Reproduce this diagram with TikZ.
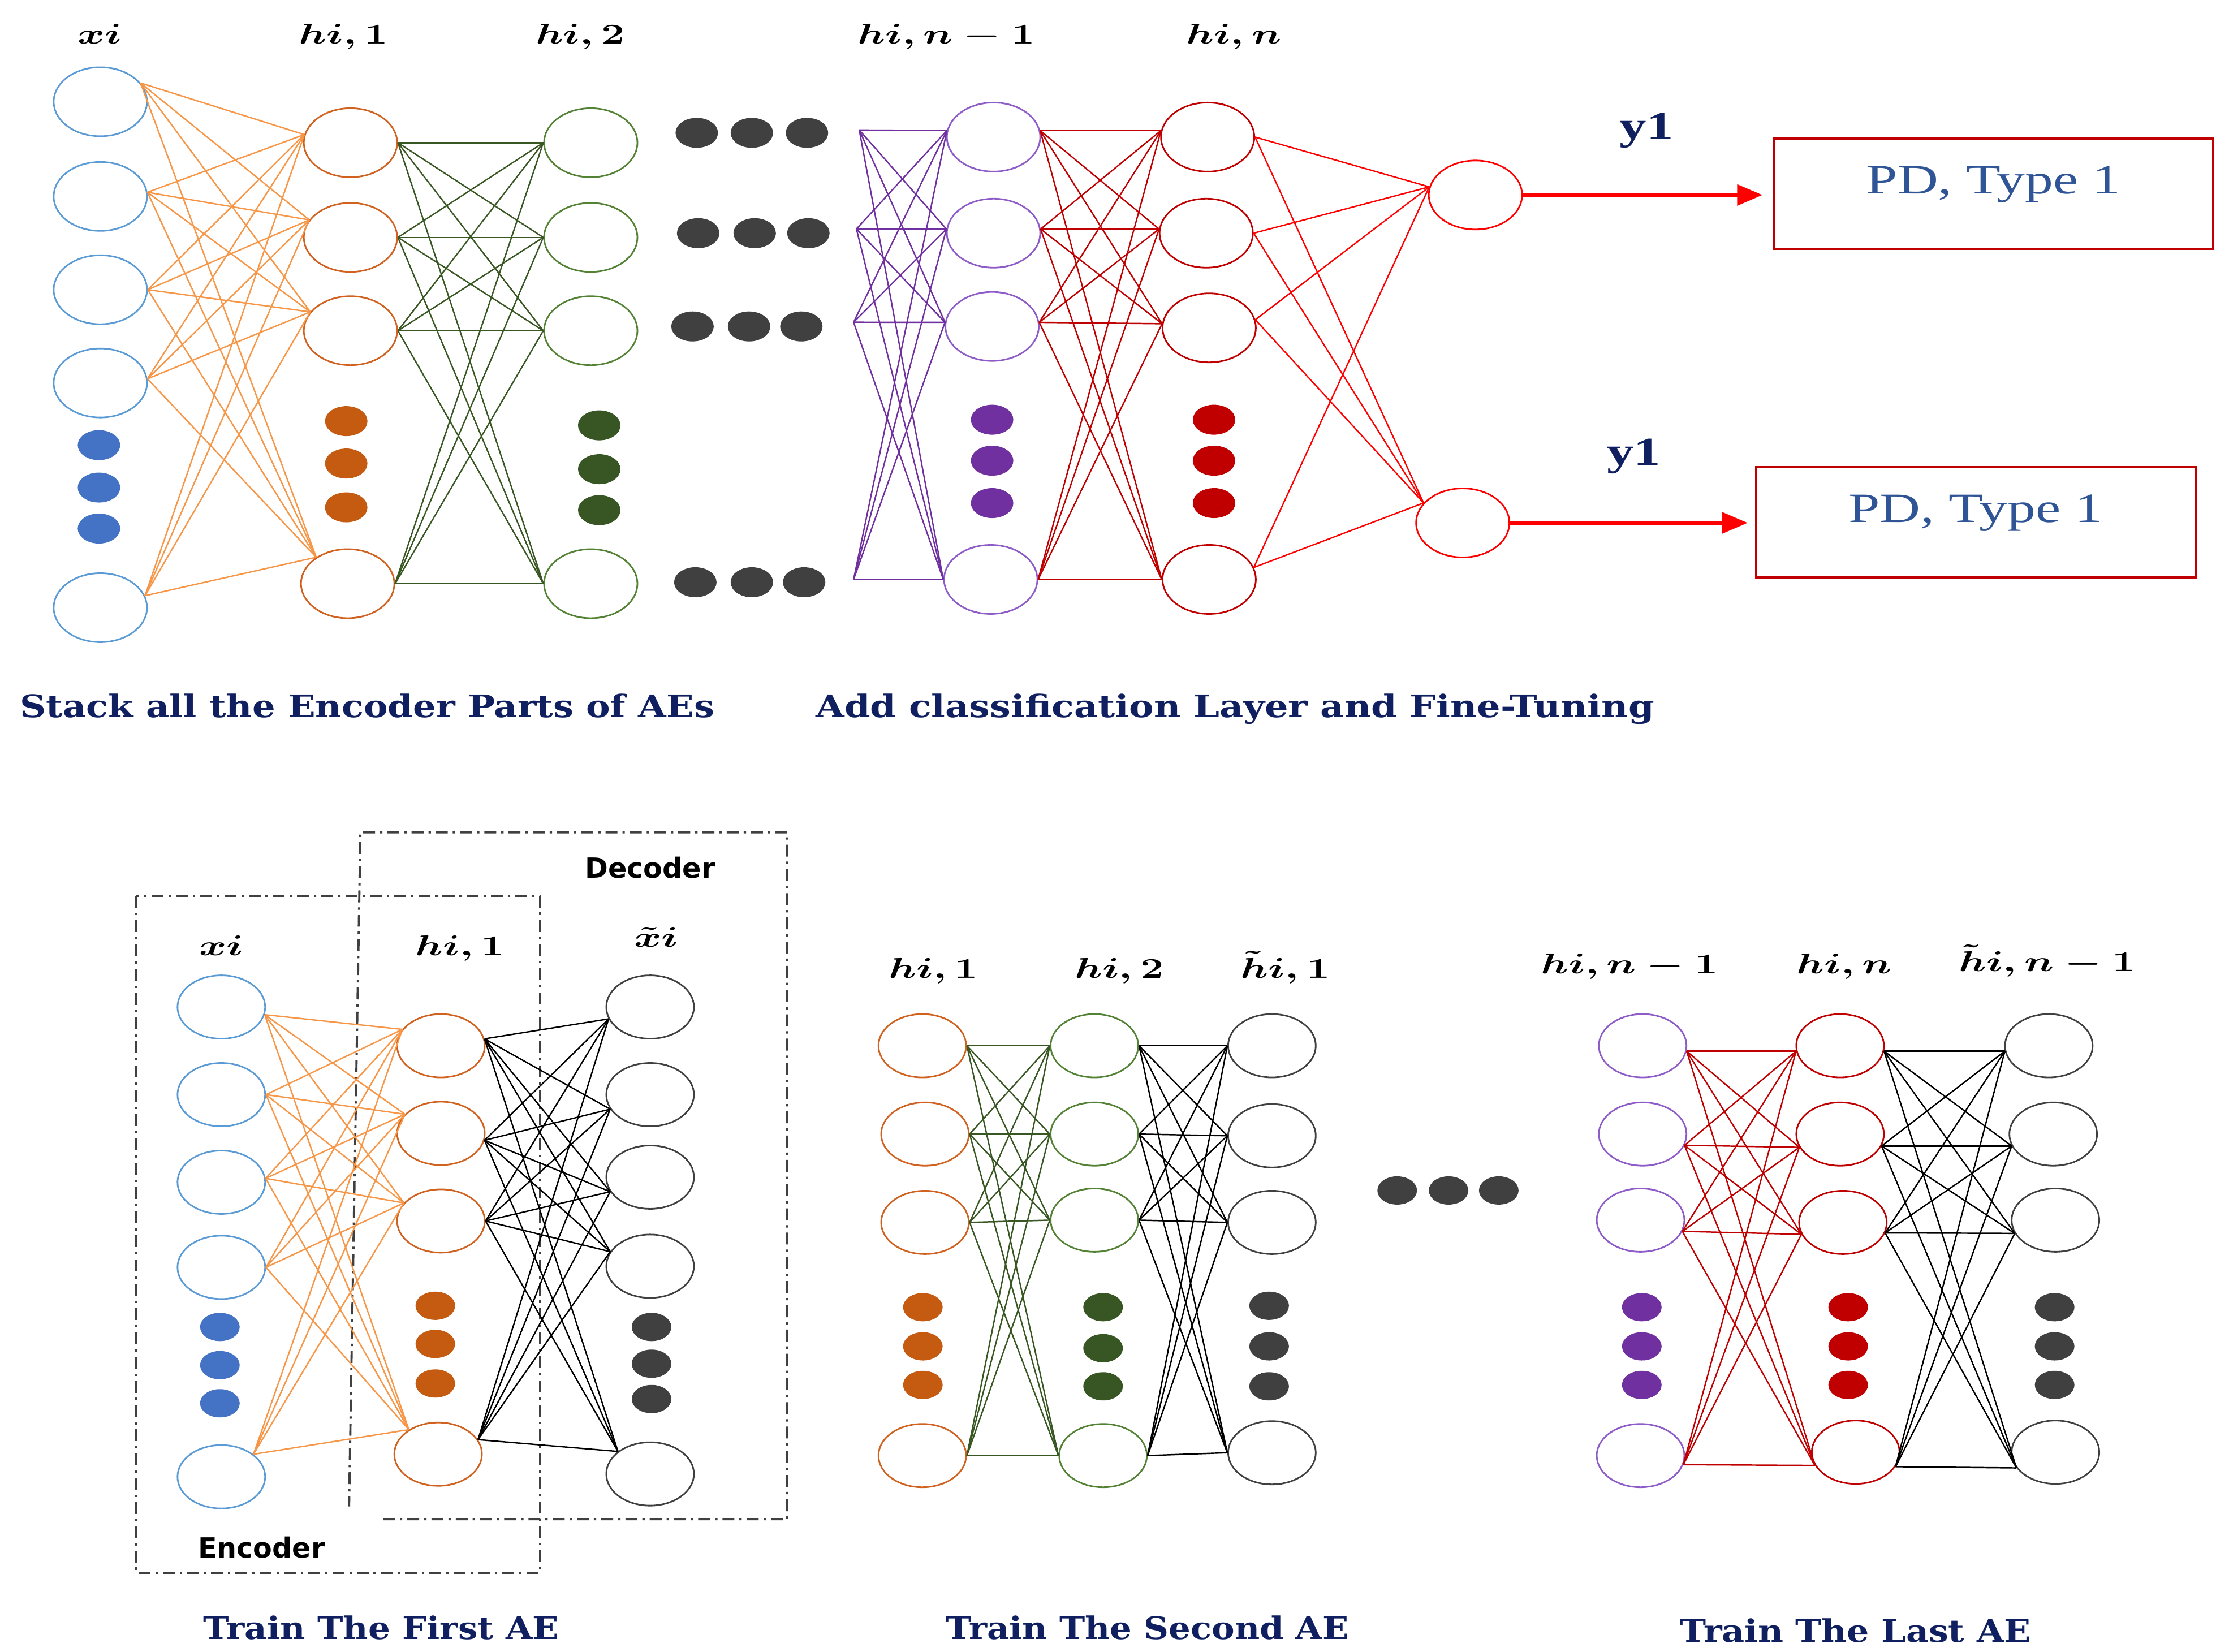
\documentclass[tikz,border=0pt]{standalone}
\usepackage{graphicx}
\usepackage{fontspec}
\usetikzlibrary{shapes.geometric,arrows.meta}
\newfontfamily\tmsf{Liberation Serif}
\newfontfamily\capf{DejaVu Serif}
\newfontfamily\dvsf{DejaVu Sans}
\definecolor{blueO}{HTML}{5B9BD5}
\definecolor{blueD}{HTML}{4472C4}
\definecolor{orO}{HTML}{D0611F}
\definecolor{orL}{HTML}{F79646}
\definecolor{orD}{HTML}{C55A11}
\definecolor{grO}{HTML}{548235}
\definecolor{grL}{HTML}{385723}
\definecolor{grD}{HTML}{375623}
\definecolor{puO}{HTML}{8E5CC8}
\definecolor{puL}{HTML}{7030A0}
\definecolor{rdO}{HTML}{C00000}
\definecolor{brR}{HTML}{FF0000}
\definecolor{gk}{HTML}{404040}
\definecolor{navy}{HTML}{0F1F5F}
\definecolor{pdblue}{HTML}{2F5597}
\newcommand\lab[1]{\scalebox{1.45}[1]{\fontsize{14.2pt}{16pt}\selectfont\boldmath$#1$}}
\tikzset{
  neu/.style={ellipse, draw, inner sep=0pt, minimum width=1.65cm, minimum height=1.22cm, line width=0.8pt},
  neub/.style={ellipse, draw, inner sep=0pt, minimum width=1.55cm, minimum height=1.12cm, line width=0.8pt},
  dott/.style={ellipse, inner sep=0pt, minimum width=0.75cm, minimum height=0.53cm},
  dotb/.style={ellipse, inner sep=0pt, minimum width=0.7cm, minimum height=0.5cm},
  cn/.style={line width=0.7pt},
  lbl/.style={inner sep=0pt, anchor=base},
  capt/.style={inner sep=0pt, anchor=base west, text=navy},
  pdbox/.style={draw=rdO, line width=1.1pt, minimum width=7.775cm, minimum height=1.95cm, inner sep=0pt, text=pdblue, text height=0.5cm, text depth=0.5cm},
  arr/.style={draw=brR, line width=2.1pt, -{Triangle[length=0.45cm,width=0.36cm]}},
  ddbox/.style={draw=gk, line width=1.1pt, dash pattern=on 6pt off 2.5pt on 1.2pt off 2.5pt},
  ylab/.style={inner sep=0pt, anchor=base, text=navy},
  edlab/.style={inner sep=0pt, font=\dvsf\bfseries\fontsize{14pt}{16pt}\selectfont, text=black}
}
\begin{document}
\begin{tikzpicture}[x=0.025cm, y=-0.025cm]
\fill[white] (0,0) rectangle (1568,1169);
\useasboundingbox (0,0) rectangle (1568,1169);

% ================= TOP NETWORK =================
\node[lbl] (lx) at (70.5,31) {\lab{xi}};
\node[lbl] (lh1) at (243,31) {\lab{hi,1}};
\node[lbl] (lh2) at (410.5,31) {\lab{hi,2}};
\node[lbl] (lhn1) at (669.6,31) {\lab{hi,n-1}};
\node[lbl] (lhn) at (873,31) {\lab{hi,n}};

% input xi
\foreach \n/\y in {1/72,2/139,3/205,4/271,5/430}
  \node[neu, draw=blueO] (tx\n) at (71,\y) {};
\foreach \n/\y in {1/315,2/345,3/374}
  \node[dott, fill=blueD] (tbd\n) at (70,\y) {};
% hi,1
\foreach \n/\x/\y in {1/248/101,2/248/168,3/248/234,4/246/413}
  \node[neu, draw=orO] (ta\n) at (\x,\y) {};
\foreach \n/\y in {1/298,2/328,3/359}
  \node[dott, fill=orD] (tod\n) at (245,\y) {};
% hi,2
\foreach \n/\y in {1/101,2/168,3/234,4/413}
  \node[neu, draw=grO] (tb\n) at (418,\y) {};
\foreach \n/\y in {1/301,2/332,3/361}
  \node[dott, fill=grD] (tgd\n) at (424,\y) {};
% gray dots rows
\foreach \n/\x/\y in {1/493/94,2/532/94,3/571/94,4/494/165,5/534/165,6/572/165,
                      7/490/231,8/530/231,9/567/231,10/492/412,11/532/412,12/569/412}
  \node[dott, fill=gk] (tkd\n) at (\x,\y) {};
% phantom points
\coordinate (tp1) at (608,92);
\coordinate (tp2) at (606,162);
\coordinate (tp3) at (604,228);
\coordinate (tp4) at (604,410);
% hi,n-1
\foreach \n/\x/\y in {1/703/97,2/703/165,3/702/231,4/701/410}
  \node[neu, draw=puO] (tc\n) at (\x,\y) {};
\foreach \n/\y in {1/297,2/326,3/356}
  \node[dott, fill=puL] (tpd\n) at (702,\y) {};
% hi,n
\foreach \n/\x/\y in {1/854.5/97,2/853.5/165,3/855.6/232,4/855.6/410}
  \node[neu, draw=rdO] (td\n) at (\x,\y) {};
\foreach \n/\y in {1/297,2/326,3/356}
  \node[dott, fill=rdO] (trd\n) at (859,\y) {};
% outputs
\node[neu, draw=brR] (to1) at (1044,138) {};
\node[neu, draw=brR] (to2) at (1035,370) {};

% connections
\foreach \i/\a in {1/25,2/5,3/0,4/5,5/15}
  \foreach \j/\b in {1/170,2/157,3/155,4/140}
    \draw[cn, orL] (tx\i.\a) -- (ta\j.\b);
\foreach \i in {1,...,4}
  \foreach \j in {1,...,4}
    \draw[cn, grL] (ta\i.east) -- (tb\j.west);
\foreach \i in {1,...,4}
  \foreach \j/\b in {1/172,2/175,3/175,4/180}
    \draw[cn, puL] (tp\i) -- (tc\j.\b);
\foreach \i/\a in {1/8,2/5,3/5,4/0}
  \foreach \j/\b in {1/172,2/175,3/175,4/180}
    \draw[cn, rdO] (tc\i.\a) -- (td\j.\b);
\foreach \i/\a in {1/0,2/0,3/10,4/15}
  \foreach \j/\b in {1/170,2/153}
    \draw[cn, brR] (td\i.\a) -- (to\j.\b);

% output boxes
\node[pdbox] (pd1) at (1410.5,137) {\tmsf\fontsize{21pt}{24pt}\selectfont\scalebox{1.35}[1]{PD, Type 1}};
\node[pdbox] (pd2) at (1398,369.5) {\tmsf\fontsize{21pt}{24pt}\selectfont\scalebox{1.35}[1]{PD, Type 1}};
\draw[arr, shorten >=0.175cm] (to1.east) -- (to1.east -| pd1.west);
\draw[arr, shorten >=0.125cm] (to2.east) -- (to2.east -| pd2.west);
\node[ylab] (y1a) at (1165,98.7) {\tmsf\bfseries\fontsize{20pt}{22pt}\selectfont\scalebox{1.35}[1]{y1}};
\node[ylab] (y1b) at (1156,329) {\tmsf\bfseries\fontsize{20pt}{22pt}\selectfont\scalebox{1.35}[1]{y1}};

% captions
\node[capt] (cap1) at (14,507.5) {\resizebox{12.275cm}{0.4175cm}{\capf\bfseries Stack all the Encoder Parts of AEs}};
\node[capt] (cap2) at (577,507.5) {\resizebox{14.825cm}{0.4175cm}{\capf\bfseries Add classification Layer and Fine-Tuning}};

% ================= FIRST AE =================
\draw[ddbox] (96.6,634) rectangle (382,1113);
\draw[ddbox] (271,1075) -- (557,1075) -- (557,589) -- (255,589) -- (247,1066);
\node[edlab] (dec) at (460,614) {Decoder};
\node[edlab] (enc) at (185,1095) {Encoder};

\node[lbl] (blx) at (156.5,676) {\lab{xi}};
\node[lbl] (blh) at (325.5,676) {\lab{hi,1}};
\node[lbl] (blxt) at (464.5,670) {\lab{\tilde{x}i}};

\foreach \n/\y in {1/712.6,2/774.6,3/836.6,4/896.8,5/1045}
  \node[neub, draw=blueO] (bx\n) at (156.6,\y) {};
\foreach \n/\y in {1/939,2/966,3/993}
  \node[dotb, fill=blueD] (bbd\n) at (155.6,\y) {};
\foreach \n/\x/\y in {1/312/740,2/312/802,3/312/864,4/310/1029}
  \node[neub, draw=orO] (ba\n) at (\x,\y) {};
\foreach \n/\y in {1/924,2/951,3/979}
  \node[dotb, fill=orD] (bod\n) at (308,\y) {};
\foreach \n/\y in {1/712.6,2/774.6,3/833,4/896,5/1043}
  \node[neub, draw=gk] (bc\n) at (460,\y) {};
\foreach \n/\y in {1/939,2/965,3/990}
  \node[dotb, fill=gk] (bkd\n) at (461,\y) {};

\foreach \i/\a in {1/350,2/0,3/5,4/0,5/35}
  \foreach \j/\b in {1/157,2/152,3/154,4/140}
    \draw[cn, orL] (bx\i.\a) -- (ba\j.\b);
\foreach \i/\a in {1/9,2/351,3/0,4/20}
  \foreach \j/\b in {1/196,2/200,3/200,4/160,5/145}
    \draw[cn, black] (ba\i.\a) -- (bc\j.\b);

\node[capt] (cap3) at (143.5,1160) {\resizebox{6.29cm}{0.4175cm}{\capf\bfseries Train The First AE}};

% ================= SECOND AE =================
\node[lbl] (slh1) at (660.5,692) {\lab{hi,1}};
\node[lbl] (slh2) at (792,692) {\lab{hi,2}};
\node[lbl] (slht) at (909.5,692) {\lab{\tilde{h}i,1}};

\foreach \n/\x/\y in {1/652.6/740,2/654.5/802.5,3/654.5/865,4/652.6/1030}
  \node[neub, draw=orO] (sa\n) at (\x,\y) {};
\foreach \n/\y in {1/925,2/952.7,3/980}
  \node[dotb, fill=orD] (sod\n) at (653,\y) {};
\foreach \n/\x/\y in {1/774.4/740,2/774.4/802.5,3/774.4/863.4,4/780.5/1030}
  \node[neub, draw=grO] (sb\n) at (\x,\y) {};
\foreach \n/\y in {1/925,2/954,3/981}
  \node[dotb, fill=grD] (sgd\n) at (780.5,\y) {};
\foreach \n/\y in {1/740,2/803.7,3/865,4/1028}
  \node[neub, draw=gk] (sc\n) at (900,\y) {};
\foreach \n/\y in {1/924,2/952.7,3/981}
  \node[dotb, fill=gk] (skd\n) at (898,\y) {};

\foreach \i in {1,...,4}
  \foreach \j in {1,...,4}
    \draw[cn, grL] (sa\i.east) -- (sb\j.west);
\foreach \i in {1,...,4}
  \foreach \j in {1,...,4}
    \draw[cn, black] (sb\i.east) -- (sc\j.west);

\foreach \n/\x in {1/988.6,2/1025,3/1060.5}
  \node[dotb, fill=gk] (mid\n) at (\x,842.4) {};

\node[capt] (cap4) at (669,1160) {\resizebox{7.125cm}{0.4175cm}{\capf\bfseries Train The Second AE}};

% ================= LAST AE =================
\node[lbl] (llh1) at (1153,689) {\lab{hi,n-1}};
\node[lbl] (llh2) at (1305,689) {\lab{hi,n}};
\node[lbl] (llht) at (1448.6,687.5) {\lab{\tilde{h}i,n-1}};

\foreach \n/\x/\y in {1/1162.3/740,2/1162.3/802.5,3/1160.8/863.4,4/1160.8/1030}
  \node[neub, draw=puO] (la\n) at (\x,\y) {};
\foreach \n/\y in {1/925,2/952.7,3/980}
  \node[dotb, fill=puL] (lpd\n) at (1161.7,\y) {};
\foreach \n/\x/\y in {1/1302/740,2/1302/802.5,3/1304/865,4/1313/1027.6}
  \node[neub, draw=rdO] (lb\n) at (\x,\y) {};
\foreach \n/\y in {1/925,2/952.7,3/980}
  \node[dotb, fill=rdO] (lrd\n) at (1307.7,\y) {};
\foreach \n/\x/\y in {1/1449.7/740,2/1452.8/802.5,3/1454.4/863.4,4/1454.4/1027.6}
  \node[neub, draw=gk] (lc\n) at (\x,\y) {};
\foreach \n/\y in {1/925,2/952.7,3/980}
  \node[dotb, fill=gk] (lkd\n) at (1453.8,\y) {};

\foreach \i/\a in {1/353,2/345,3/345,4/348}
  \foreach \j/\b in {1/187,2/198,3/196,4/198}
    \draw[cn, rdO] (la\i.\a) -- (lb\j.\b);
\foreach \i/\a in {1/353,2/344,3/346,4/340}
  \foreach \j/\b in {1/187,2/196,3/198,4/202}
    \draw[cn, black] (lb\i.\a) -- (lc\j.\b);

\node[capt] (cap5) at (1188.5,1162) {\resizebox{6.2cm}{0.4175cm}{\capf\bfseries Train The Last AE}};
\end{tikzpicture}
\end{document}
